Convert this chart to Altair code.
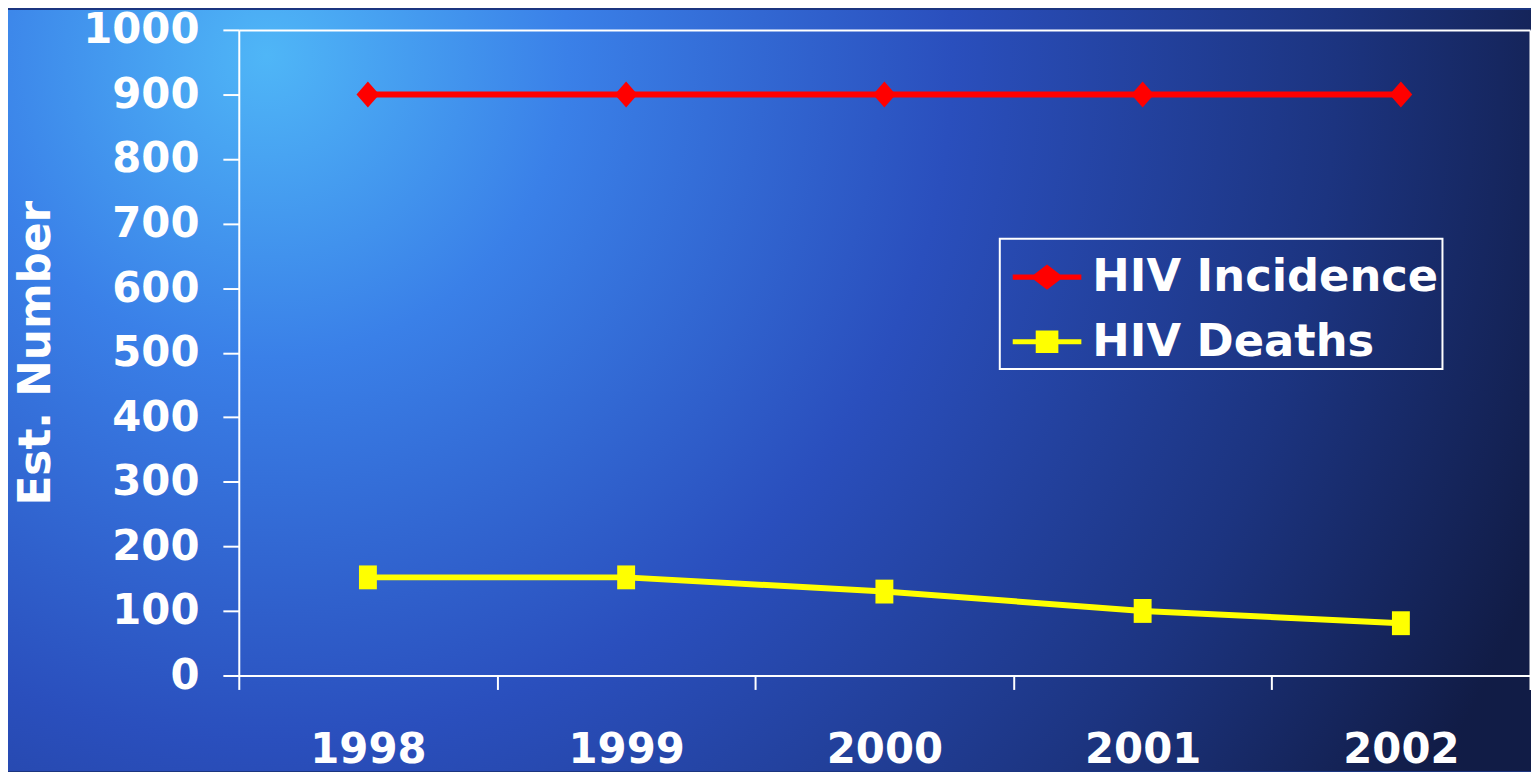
import altair as alt
import pandas as pd

years = ["1998", "1999", "2000", "2001", "2002"]
incidence = [900, 900, 900, 900, 900]
deaths = [152, 152, 130, 100, 81]
series_names = ["HIV Incidence", "HIV Deaths"]
series_colors = ["#ff0000", "#ffff00"]
y_ticks = [0, 100, 200, 300, 400, 500, 600, 700, 800, 900, 1000]

rows = []
for yr, v in zip(years, incidence):
    rows.append({"year": yr, "series": series_names[0], "value": v})
for yr, v in zip(years, deaths):
    rows.append({"year": yr, "series": series_names[1], "value": v})
df = pd.DataFrame(rows)

W, H = 1298, 649
PAD_L, PAD_T, PAD_R, PAD_B = 232, 20, 1, 96
FONT = "DejaVu Sans"

# legend symbol paths (line with marker)
leg_diamond = "M-1,-0.075 H-0.38 L0,-0.37 L0.38,-0.075 H1 V0.075 H0.38 L0,0.37 L-0.38,0.075 H-1 Z"
leg_square = "M-1,-0.075 H-0.33 V-0.33 H0.33 V-0.075 H1 V0.075 H0.33 V0.33 H-0.33 V0.075 H-1 Z"
pt_diamond = "M0,-1 L0.88,0 L0,1 L-0.88,0 Z"
pt_square = "M-0.75,-1 H0.75 V1 H-0.75 Z"

x_scale = alt.Scale(type="band", domain=years, paddingInner=0, paddingOuter=0)
y_scale = alt.Scale(domain=[0, 1000], nice=False)

bottom_axis = alt.Axis(
    orient="bottom", title=None, labelAngle=0, labelFont=FONT, labelFontSize=42,
    labelFontWeight="bold", labelColor="white", domainColor="white", domainWidth=2,
    tickColor="white", tickWidth=2, tickSize=14, tickBand="extent",
    labelPadding=60, labelBaseline="middle", grid=False, zindex=1,
)
left_axis = alt.Axis(
    orient="left", values=y_ticks, format="d", title="Est. Number", titleFont=FONT,
    titleFontSize=44, titleFontWeight="bold", titleColor="white", titlePadding=24,
    labelFont=FONT, labelFontSize=42, labelFontWeight="bold", labelColor="white",
    labelPadding=24, domainColor="white", domainWidth=2, tickColor="white",
    tickWidth=2, tickSize=16, grid=False, zindex=1,
)
top_axis = alt.Axis(orient="top", labels=False, ticks=False, title=None,
                    domainColor="white", domainWidth=2, grid=False, zindex=1)
right_axis = alt.Axis(orient="right", labels=False, ticks=False, title=None,
                      domainColor="white", domainWidth=2, grid=False, zindex=1)

bg_gradient = {
    "gradient": "radial",
    "x1": 0.17, "y1": 0.28, "r1": 0,
    "x2": 0.17, "y2": 0.28, "r2": 0.9,
    "stops": [
        {"offset": 0.0, "color": "#4fb6f7"},
        {"offset": 0.22, "color": "#3a80e8"},
        {"offset": 0.5, "color": "#2a4fbd"},
        {"offset": 0.78, "color": "#1c3480"},
        {"offset": 1.0, "color": "#111c46"},
    ],
}

bg = alt.Chart(pd.DataFrame({"bg": [0]})).mark_rect(color=bg_gradient).encode(
    x=alt.value(-PAD_L), x2=alt.value(W + PAD_R),
    y=alt.value(-PAD_T), y2=alt.value(H + PAD_B),
)

base = alt.Chart(df)
inc = base.transform_filter(alt.datum.series == series_names[0])
dth = base.transform_filter(alt.datum.series == series_names[1])

line_inc = inc.mark_line(strokeWidth=6, color=series_colors[0]).encode(
    x=alt.X("year:O", scale=x_scale, axis=bottom_axis),
    y=alt.Y("value:Q", scale=y_scale, axis=left_axis),
)
line_dth = dth.mark_line(strokeWidth=6, color=series_colors[1]).encode(
    x=alt.X("year:O", scale=x_scale, axis=None),
    y=alt.Y("value:Q", scale=y_scale, axis=None),
)
diamonds = inc.mark_point(
    filled=True, shape=pt_diamond, size=676, opacity=1, color=series_colors[0]
).encode(
    x=alt.X("year:O", scale=x_scale, axis=top_axis),
    y=alt.Y("value:Q", scale=y_scale, axis=right_axis),
)
squares = dth.mark_point(
    filled=True, shape=pt_square, size=576, opacity=1, color=series_colors[1]
).encode(
    x=alt.X("year:O", scale=x_scale, axis=None),
    y=alt.Y("value:Q", scale=y_scale, axis=None),
)

legend_def = alt.Legend(
    title=None, orient="none", legendX=765, legendY=210,
    strokeColor="white", fillColor="transparent", padding=4,
    symbolOffset=9, symbolSize=4761, symbolStrokeWidth=0, symbolOpacity=1,
    labelFont=FONT, labelFontSize=45, labelFontWeight="bold", labelColor="white",
    labelOffset=11, labelLimit=1000, rowPadding=7,
)

legend_layer = base.transform_filter("false").mark_point(filled=True, opacity=1).encode(
    fill=alt.Fill("series:N", scale=alt.Scale(domain=series_names, range=series_colors),
                  legend=legend_def),
    shape=alt.Shape("series:N", scale=alt.Scale(domain=series_names, range=[leg_diamond, leg_square]),
                    legend=legend_def),
)

chart = alt.layer(bg, line_inc, line_dth, diamonds, squares, legend_layer).properties(
    width=W, height=H,
    autosize=alt.AutoSizeParams(type="none"),
    padding={"left": PAD_L, "top": PAD_T, "right": PAD_R, "bottom": PAD_B},
    background="#1b3580",
).configure_view(stroke=None).configure_legend(strokeWidth=2)

chart.save("out.html", embed_options={"renderer": "svg", "actions": False})
